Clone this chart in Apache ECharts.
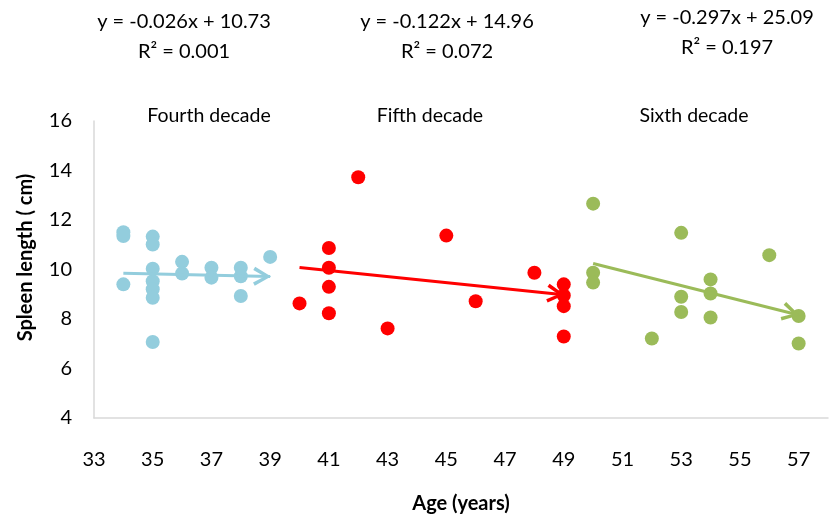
<!DOCTYPE html>
<html><head><meta charset="utf-8">
<script src="https://cdn.jsdelivr.net/npm/echarts@6/dist/echarts.min.js"></script>
<style>html,body{margin:0;padding:0;background:#fff}#c{width:834px;height:519px}</style>
</head><body><div id="c"></div>
<script>
const fourthAge = [34,34,34,35,35,35,35,35,35,35,36,36,37,37,38,38,38,39];
const fourthLen = [11.51,11.35,9.40,11.33,11.01,10.03,9.53,9.20,8.86,7.07,10.31,9.84,10.07,9.67,10.07,9.73,8.93,10.51];
const fifthAge = [40,41,41,41,41,42,43,45,46,48,49,49,49,49];
const fifthLen = [8.63,10.87,10.07,9.30,8.23,13.73,7.62,11.37,8.72,9.87,9.40,8.95,8.52,7.29];
const sixthAge = [50,50,50,52,53,53,53,54,54,54,56,57,57];
const sixthLen = [12.66,9.87,9.47,7.21,11.48,8.90,8.28,9.60,9.03,8.06,10.58,8.12,7.01];
const trendSlope = [-0.026,-0.122,-0.297];
const trendIntercept = [10.73,14.96,25.09];
const trendStart = [34,40,50];
const trendEnd = [39,49,57];
const equationLabels = ['y = -0.026x + 10.73','y = -0.122x + 14.96','y = -0.297x + 25.09'];
const r2Labels = ['R\u00b2 = 0.001','R\u00b2 = 0.072','R\u00b2 = 0.197'];
const decadeLabels = ['Fourth decade','Fifth decade','Sixth decade'];

const colors = ['#93CDDD','#FF0000','#9BBB59'];
const groups = [[fourthAge,fourthLen],[fifthAge,fifthLen],[sixthAge,sixthLen]];
const FONT = 'Lato, "Open Sans", sans-serif';
// open chevron with its tip at the centre of the symbol box (tiny invisible speck in front of the tip)
const chevron = 'path://M5,-9 L5.01,-9 L5,-8.99 Z M0,9 L5,0 L10,9 L8.3,10 L5,3.6 L1.7,10 Z';

const series = groups.map((g,i)=>({
  type:'scatter',
  name: decadeLabels[i],
  data: g[0].map((a,k)=>[a,g[1][k]]),
  symbolSize: 14,
  itemStyle:{color:colors[i], opacity:1},
  emphasis:{disabled:true},
  markLine:{
    silent:true,
    animation:false,
    symbol:['none', chevron],
    symbolSize:[19,34],
    label:{show:false},
    lineStyle:{color:colors[i], width:3, type:'solid', opacity:1},
    emphasis:{disabled:true},
    data:[[
      {coord:[trendStart[i], trendSlope[i]*trendStart[i]+trendIntercept[i]]},
      {coord:[trendEnd[i], trendSlope[i]*trendEnd[i]+trendIntercept[i]]}
    ]]
  }
}));

const eqX = [184,447,727];
const eqY = [22,22,18];
const decX = [209,430,694];
const graphics = [];
for (let i=0;i<3;i++){
  graphics.push({type:'text', x:eqX[i], y:eqY[i], style:{text:equationLabels[i], font:'20px '+FONT, fill:'#000', align:'center', verticalAlign:'middle'}});
  graphics.push({type:'text', x:eqX[i], y:eqY[i]+30, style:{text:r2Labels[i], font:'20px '+FONT, fill:'#000', align:'center', verticalAlign:'middle'}});
  graphics.push({type:'text', x:decX[i], y:116, style:{text:decadeLabels[i], font:'19.5px '+FONT, fill:'#000', align:'center', verticalAlign:'middle'}});
}

const chart = echarts.init(document.getElementById('c'), null, {renderer:'canvas'});
chart.setOption({
  animation:false,
  backgroundColor:'#fff',
  grid:{left:94, right:6, top:121, bottom:100, containLabel:false},
  xAxis:{
    type:'value', min:33, max:58, interval:2,
    name:'Age (years)', nameLocation:'middle', nameGap:76,
    nameTextStyle:{fontFamily:FONT, fontWeight:'bold', fontSize:20, color:'#000', padding:[0,0,0,0]},
    axisLine:{show:true, lineStyle:{color:'#D9D9D9', width:1.5}},
    axisTick:{show:false},
    splitLine:{show:false},
    axisLabel:{fontFamily:FONT, fontSize:20, color:'#000', margin:32,
      formatter:v=> (v===58 ? '' : String(v))}
  },
  yAxis:{
    type:'value', min:4, max:16, interval:2,
    name:'Spleen length ( cm)', nameLocation:'middle', nameGap:58, nameRotate:90,
    nameTextStyle:{fontFamily:FONT, fontWeight:'bold', fontSize:20, color:'#000', padding:[0,0,0,24]},
    axisLine:{show:true, lineStyle:{color:'#D9D9D9', width:1.5}},
    axisTick:{show:false},
    splitLine:{show:false},
    axisLabel:{fontFamily:FONT, fontSize:20, color:'#000', margin:22}
  },
  series: series,
  graphic: graphics
});
</script></body></html>
